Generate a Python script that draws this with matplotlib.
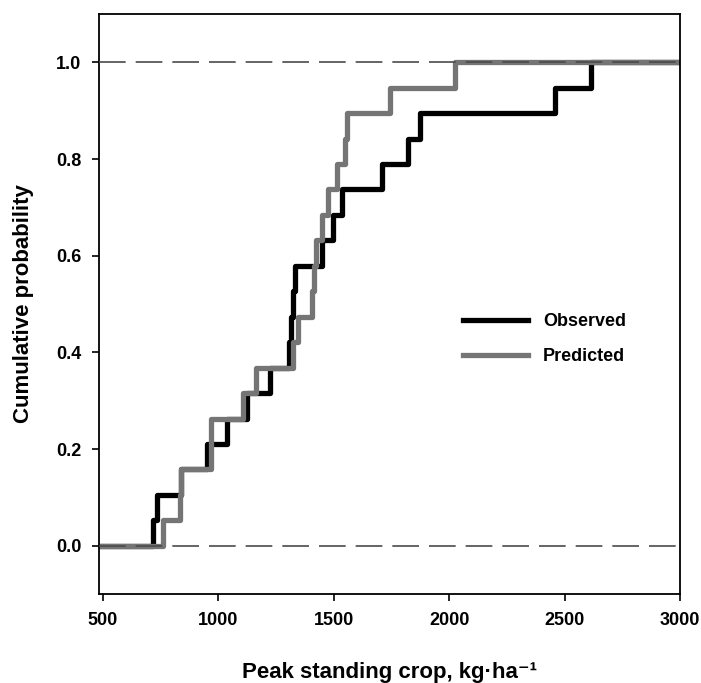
import matplotlib
matplotlib.use("Agg")
import matplotlib.pyplot as plt

plt.rcParams['font.family'] = ['Liberation Sans', 'DejaVu Sans']
plt.rcParams['font.weight'] = 'bold'

# cumulative probability levels (19 sites)
cum_prob = [0.053, 0.105, 0.158, 0.211, 0.263, 0.316, 0.368, 0.421, 0.474, 0.526,
            0.579, 0.632, 0.684, 0.737, 0.789, 0.842, 0.895, 0.947, 1.0]

# peak standing crop values, kg/ha (sorted)
observed = [715, 733, 838, 951, 1037, 1124, 1224, 1306, 1315, 1323,
            1332, 1449, 1497, 1536, 1709, 1821, 1873, 2458, 2614]
predicted = [760, 832, 836, 968, 970, 1107, 1163, 1323, 1345, 1406,
             1414, 1423, 1449, 1475, 1514, 1549, 1557, 1743, 2025]

x_min, x_max = 484, 3000
x_ticks = [500, 1000, 1500, 2000, 2500, 3000]
y_ticks = [0.0, 0.2, 0.4, 0.6, 0.8, 1.0]

fig = plt.figure(figsize=(7.01, 6.83), dpi=100)
ax = fig.add_axes([99.3 / 701, 89 / 683, 580.7 / 701, 580 / 683])

# reference lines at 0 and 1
for yv in (0.0, 1.0):
    ax.axhline(yv, color='#4a4a4a', lw=1.2, linestyle=(0, (16, 6)), zorder=3)

ax.step([x_min] + observed + [x_max], [0.0] + cum_prob + [1.0], where='post',
        color='black', lw=3.8, label='Observed', zorder=1)
ax.step([x_min] + predicted + [x_max], [0.0] + cum_prob + [1.0], where='post',
        color='#757575', lw=3.8, label='Predicted', zorder=2)

ax.set_xlim(x_min, x_max)
ax.set_ylim(-0.1, 1.1)
ax.set_xticks(x_ticks)
ax.set_yticks(y_ticks)
ax.set_yticklabels([f'{v:.1f}' for v in y_ticks])
ax.tick_params(direction='out', length=5, width=1.2, labelsize=13, pad=8)
for s in ax.spines.values():
    s.set_linewidth(1.3)

ax.set_xlabel('Peak standing crop, kg·ha⁻¹', fontsize=16,
              fontweight='bold', labelpad=24)
ax.set_ylabel('Cumulative probability', fontsize=16, fontweight='bold', labelpad=16)

leg = ax.legend(loc='center left', bbox_to_anchor=(0.627, 0.439), frameon=False,
                fontsize=13, handlelength=3.6, handletextpad=0.8, labelspacing=1.0,
                borderaxespad=0, borderpad=0)
for t in leg.get_texts():
    t.set_fontweight('bold')

fig.savefig('out.png', dpi=100)
